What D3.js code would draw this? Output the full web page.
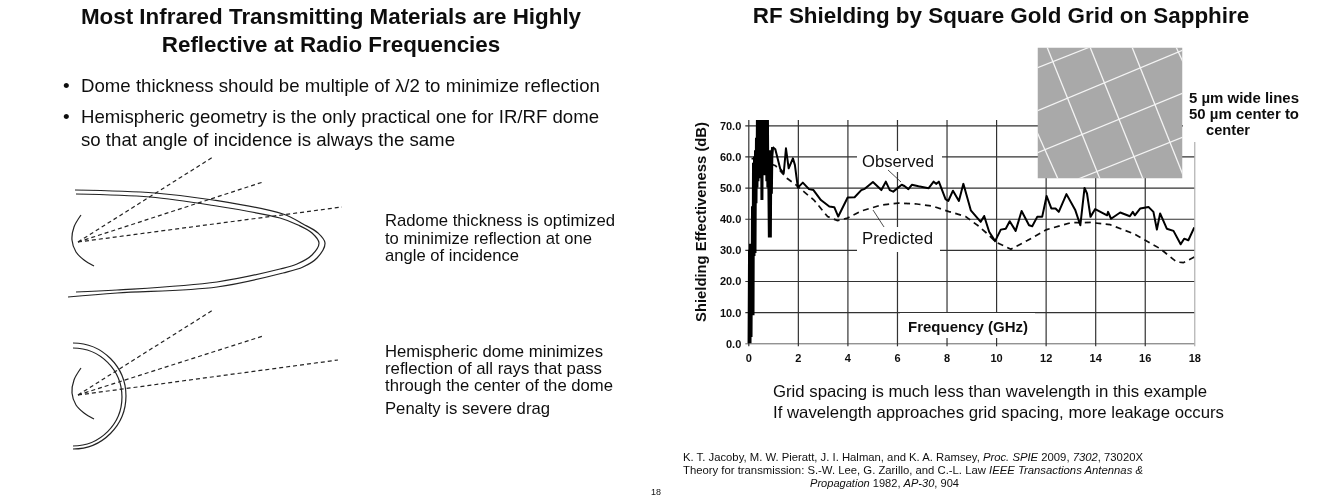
<!DOCTYPE html>
<html><head><meta charset="utf-8">
<script src="https://cdnjs.cloudflare.com/ajax/libs/d3/7.8.5/d3.min.js"></script>
<style>
html,body{margin:0;padding:0;background:#fff}
svg{display:block}
text{font-family:"Liberation Sans",Arial,sans-serif;fill:#111}
</style></head><body>
<script>
// ---- chart data ----
const xTicks=[0,2,4,6,8,10,12,14,16,18];
const yTicks=[0,10,20,30,40,50,60,70];
const burstFreq=[0.03,0.05,0.07,0.09,0.11,0.13,0.15,0.17,0.19,0.21,0.23,0.25,0.27,0.29,0.31,0.33,0.35,0.37,0.39,0.41,0.43,0.45,0.47,0.49,0.51,0.53,0.55,0.57,0.59,0.61,0.63,0.65,0.67,0.69,0.71,0.73,0.75,0.77,0.79,0.81,0.83,0.85,0.87,0.89,0.91,0.93,0.95,0.98];
const burstDb=[0,30,0,32,2,31,9,44,9,58,28,60,29,62,45,66,50,75,52,75,53,75,55,75,54,75,46,75,55,75,56,75,54,75,55,75,52,75,50,62,51,34,60,34,62,48,60,63];
const obsFreq=[1.09,1.29,1.43,1.52,1.63,1.8,1.88,2,2.2,2.45,2.63,2.93,3.27,3.47,3.63,4.01,4.29,4.56,4.7,5.03,5.37,5.55,5.71,5.85,6.19,6.3,6.46,6.6,6.87,7.28,7.48,7.58,7.69,7.96,8.07,8.26,8.5,8.68,8.98,9.38,9.52,9.72,9.96,10.19,10.39,10.55,10.79,11.03,11.33,11.46,11.66,11.86,12.04,12.23,12.4,12.53,12.84,13.2,13.4,13.57,13.67,13.81,14,14.48,14.52,14.64,15.01,15.4,15.52,15.6,15.82,16.15,16.35,16.49,16.62,16.89,17.16,17.45,17.59,17.76,18];
const obsDb=[62.3,56,54.6,62.6,56.2,59.4,57.3,50,51.6,49.5,49.2,46,43.9,43.7,40.7,46.8,46.9,49.2,49.6,51.8,49.2,51.9,49.2,48.7,50.9,50.5,49.5,50.9,50.4,49.8,51.9,51.2,51.9,46.3,45.7,49,45.7,51.2,42.7,39,40.9,35.8,32.8,36.5,36.8,39.2,36.1,42.5,37.9,37.6,40.6,40.6,47.3,43.3,43.3,42.2,47.9,42.7,37.9,49.9,48.1,40.6,43.1,41.1,42.2,40,42,40.8,42.2,41.1,43.3,43.8,42.2,36.5,41.7,36.8,36.1,31.8,33.6,33.1,37.2];
const predFreq=[0.13,0.6,1.1,1.56,1.9,2.24,2.65,3.2,3.6,4,4.56,5.37,6.05,6.73,7.41,8.1,8.77,9.25,9.6,10,10.6,11.26,12.04,13,13.8,14.6,15.55,16.62,17.29,17.56,18];
const predDb=[59.4,58.5,57,53,51,48.7,46,40.7,39.4,40.2,42.5,44.4,45,44.8,44.1,42.3,40.7,37.9,35.5,32.5,30.2,33,36.5,38.7,38.8,38.1,35.2,30.4,26.1,25.9,27.7];

const W=1321,H=500;
const svg=d3.select("body").append("svg").attr("width",W).attr("height",H);
const defs=svg.append("defs");
defs.append("filter").attr("id","soft").append("feGaussianBlur").attr("stdDeviation",0.45);
const soft=svg.append("g").attr("filter","url(#soft)");

function txt(x,y,s,size,opt={}){
  const t=soft.append("text").attr("x",x).attr("y",y).attr("font-size",size)
    .attr("font-weight",opt.bold?"bold":"normal").attr("text-anchor",opt.anchor||"start");
  if(Array.isArray(s)) s.forEach(p=>t.append("tspan").attr("font-style",p[1]?"italic":"normal").text(p[0]));
  else t.text(s);
  if(opt.len) t.attr("textLength",opt.len).attr("lengthAdjust","spacingAndGlyphs");
  return t;
}

// ---- left panel text ----
txt(331,24,"Most Infrared Transmitting Materials are Highly",22.4,{bold:1,anchor:"middle"});
txt(331,52,"Reflective at Radio Frequencies",22.4,{bold:1,anchor:"middle"});
txt(63,92,"•",19); txt(81,92,"Dome thickness should be multiple of λ/2 to minimize reflection",18.6,{len:519});
txt(63,123,"•",19); txt(81,123,"Hemispheric geometry is the only practical one for IR/RF dome",18.6,{len:518});
txt(81,146,"so that angle of incidence is always the same",18.6,{len:374});
[[226,"Radome thickness is optimized",230],[244,"to minimize reflection at one",207],[261,"angle of incidence",134],
 [357,"Hemispheric dome minimizes",218],[374,"reflection of all rays that pass",217],[391,"through the center of the dome",228],[414,"Penalty is severe drag",165]]
 .forEach(d=>txt(385,d[0],d[1],17,{len:d[2]}));

// ---- left panel diagrams ----
const curve=d3.line().curve(d3.curveCatmullRom.alpha(0.5));
const ink=(sel,w=1.2)=>sel.attr("fill","none").attr("stroke","#222").attr("stroke-width",w);
const outer=[[75,190],[155,193],[213,200],[283,214],[303,224],[318,233],[325,243],[317,258],[303,267],[283,273],[217,287],[117,293],[68,297]];
const inner=[[76,194],[150,197],[210,205],[280,218],[298,225],[312,233],[319,243],[312,255],[297,264],[280,269],[217,282],[117,290],[76,292]];
ink(soft.append("path").attr("d",curve(outer)));
ink(soft.append("path").attr("d",curve(inner)));
const mirrorA=[[81,215],[74,227],[72,240],[76,252],[84,260],[94,266]];
ink(soft.append("path").attr("d",curve(mirrorA)));
const mirrorB=[[81,368],[74,380],[72,393],[76,405],[84,413],[94,419]];
ink(soft.append("path").attr("d",curve(mirrorB)));
ink(soft.append("path").attr("d","M73,343 A53,53 0 0 1 73,449"));
ink(soft.append("path").attr("d","M73,348 A49,49 0 0 1 73,446"));
[[[78,242],[213,157]],[[78,242],[263,182]],[[78,242],[342,207]],
 [[78,395],[213,310]],[[78,395],[263,336]],[[78,395],[338,360]]].forEach(r=>{
  ink(soft.append("path").attr("d",d3.line()(r))).attr("stroke-dasharray","4 3");
});

// ---- right panel ----
txt(1001,23,"RF Shielding by Square Gold Grid on Sapphire",22.4,{bold:1,anchor:"middle"});

const x=d3.scaleLinear().domain([0,18]).range([748.3,1194.3]);
const y=d3.scaleLinear().domain([0,70]).range([343.3,125.3]);
const plotTop=120;

const chart=soft.append("g");
// grid + ticks from d3 axes
const gy=chart.append("g").attr("transform",`translate(${x(0)},0)`)
  .call(d3.axisLeft(y).tickValues(yTicks).tickSizeInner(-(x(18)-x(0))).tickSizeOuter(0).tickPadding(7).tickFormat(d3.format(".1f")));
gy.select(".domain").remove();
gy.selectAll("line").attr("x1",-3).attr("stroke","#333").attr("stroke-width",1.2)
  .filter(d=>d===0).attr("stroke-width",0.9).attr("stroke","#555");
gy.selectAll("text").attr("font-size",11).attr("font-weight","bold").attr("font-family",null).attr("dy","0.35em");
const gx=chart.append("g").attr("transform",`translate(0,${y(0)})`)
  .call(d3.axisBottom(x).tickValues(xTicks).tickSizeInner(-(y(0)-plotTop)).tickSizeOuter(0).tickPadding(11).tickFormat(d3.format("d")));
gx.select(".domain").remove();
gx.selectAll("line").attr("y1",3).attr("stroke","#333").attr("stroke-width",1.2)
  .filter(d=>d===18).attr("stroke-width",0.7).attr("stroke","#777");
gx.selectAll("text").attr("font-size",11).attr("font-weight","bold").attr("font-family",null);

// label masks
const mask=(a,b,c,d)=>chart.append("rect").attr("x",a).attr("y",b).attr("width",c-a).attr("height",d-b).attr("fill","#fff");
mask(857,151,942,172); mask(857,227,940,252); mask(900,313,1035,338); mask(1183,100,1200,142);

// series
defs.append("clipPath").attr("id","plot").append("rect").attr("x",x(0)-3).attr("y",plotTop).attr("width",x(18)-x(0)+3).attr("height",y(0)-plotTop+2);
const line=d3.line().x(d=>x(d[0])).y(d=>y(d[1]));
const plot=chart.append("g").attr("clip-path","url(#plot)");
plot.append("path").attr("d",line(d3.zip(predFreq,predDb))).attr("fill","none").attr("stroke","#111").attr("stroke-width",1.7).attr("stroke-dasharray","6 4.5");
plot.append("path").attr("d",line(d3.zip(burstFreq,burstDb))).attr("fill","none").attr("stroke","#000").attr("stroke-width",3);
plot.append("path").attr("d",line(d3.zip(burstFreq.slice(-1).concat(obsFreq),burstDb.slice(-1).concat(obsDb)))).attr("fill","none").attr("stroke","#000").attr("stroke-width",2).attr("stroke-linejoin","round");

// annotations
txt(862,167,"Observed",16.5,{len:72});
txt(862,244,"Predicted",16.5,{len:71});
ink(chart.append("path").attr("d",d3.line()([[888,170],[901,182]])),0.8);
ink(chart.append("path").attr("d",d3.line()([[873,210],[884,227]])),0.8);
txt(968,332,"Frequency (GHz)",15,{bold:1,anchor:"middle",len:120});
txt(0,0,"Shielding Effectiveness (dB)",14.5,{bold:1,anchor:"middle",len:200}).attr("transform","translate(706,222) rotate(-90)");

// inset micrograph
const ix0=1037.5,ix1=1182.5,iy0=47.5,iy1=178.5;
defs.append("clipPath").attr("id","inset").append("rect").attr("x",ix0).attr("y",iy0).attr("width",ix1-ix0).attr("height",iy1-iy0);
const inset=soft.append("g").attr("clip-path","url(#inset)");
inset.append("rect").attr("x",ix0).attr("y",iy0).attr("width",ix1-ix0).attr("height",iy1-iy0).attr("fill","#a9a9a9");
[[[1037,68],[1090,47]],[[1037,111],[1183,50]],[[1037,153],[1183,93]],[[1078,179],[1183,137]],
 [[1047,47],[1100,179]],[[1090,47],[1143,179]],[[1132,47],[1185,180]],[[1176,47],[1183,62]],[[1037,132],[1058,179]]]
 .forEach(l=>inset.append("path").attr("d",d3.line()(l)).attr("stroke","#f4f4f4").attr("stroke-width",1.3).attr("fill","none"));

txt(1189,103,"5 µm wide lines",14.5,{bold:1,len:110});
txt(1189,119,"50 µm center to",14.5,{bold:1,len:110});
txt(1206,135,"center",14.5,{bold:1,len:44});

txt(773,397,"Grid spacing is much less than wavelength in this example",16.5,{len:434});
txt(773,418,"If wavelength approaches grid spacing, more leakage occurs",16.5,{len:451});

txt(683,461,[["K. T. Jacoby, M. W. Pieratt, J. I. Halman, and K. A. Ramsey, ",0],["Proc. SPIE",1],[" 2009, ",0],["7302",1],[", 73020X",0]],11,{len:460});
txt(683,474,[["Theory for transmission:  S.-W. Lee, G. Zarillo, and C.-L. Law ",0],["IEEE Transactions Antennas &",1]],11,{len:460});
txt(810,487,[["Propagation",1],[" 1982, ",0],["AP-30",1],[", 904",0]],11,{len:149});
txt(651,495,"18",9);
</script>
</body></html>
